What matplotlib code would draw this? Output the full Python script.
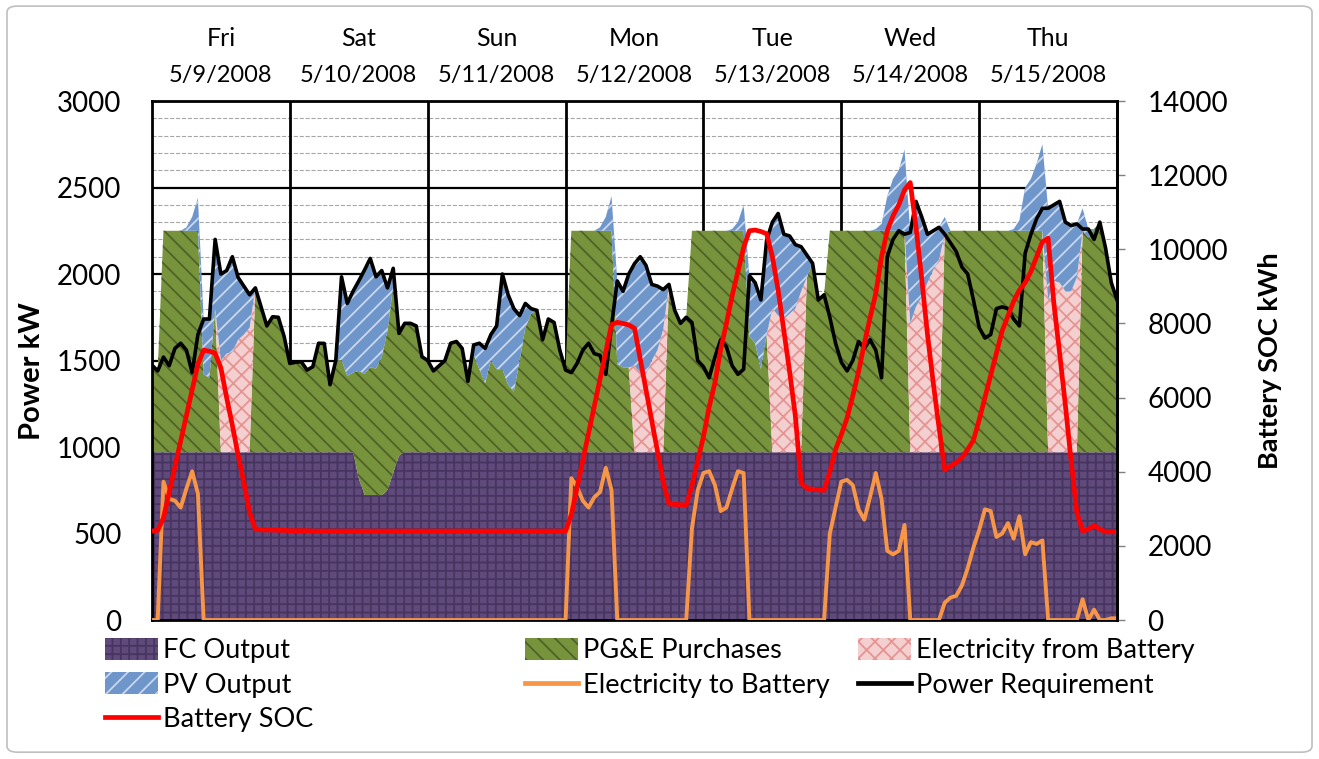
import numpy as np
import matplotlib
matplotlib.use("Agg")
import matplotlib.pyplot as plt
from matplotlib.patches import Patch, FancyBboxPatch
from matplotlib.lines import Line2D
from matplotlib.ticker import MultipleLocator
from matplotlib.transforms import blended_transform_factory

plt.rcParams['font.family'] = ['Lato', 'DejaVu Sans']
plt.rcParams['hatch.linewidth'] = 1.3

days = ["Fri", "Sat", "Sun", "Mon", "Tue", "Wed", "Thu"]
dates = ["5/9/2008", "5/10/2008", "5/11/2008", "5/12/2008",
         "5/13/2008", "5/14/2008", "5/15/2008"]

# hourly readings, Fri 0:00 .. Thu 24:00  (kW, SOC in kWh)
fc_output = [
    # Fri
    970, 970, 970, 970, 970, 970, 970, 970, 970, 970, 970, 970,
    970, 970, 970, 970, 970, 970, 970, 970, 970, 970, 970, 970,
    # Sat
    970, 970, 970, 970, 970, 970, 970, 970, 970, 970, 970, 970,
    820, 722, 722, 722, 722, 750, 850, 950, 970, 970, 970, 970,
    # Sun
    970, 970, 970, 970, 970, 970, 970, 970, 970, 970, 970, 970,
    970, 970, 970, 970, 970, 970, 970, 970, 970, 970, 970, 970,
    # Mon
    970, 970, 970, 970, 970, 970, 970, 970, 970, 970, 970, 970,
    970, 970, 970, 970, 970, 970, 970, 970, 970, 970, 970, 970,
    # Tue
    970, 970, 970, 970, 970, 970, 970, 970, 970, 970, 970, 970,
    970, 970, 970, 970, 970, 970, 970, 970, 970, 970, 970, 970,
    # Wed
    970, 970, 970, 970, 970, 970, 970, 970, 970, 970, 970, 970,
    970, 970, 970, 970, 970, 970, 970, 970, 970, 970, 970, 970,
    # Thu
    970, 970, 970, 970, 970, 970, 970, 970, 970, 970, 970, 970,
    970, 970, 970, 970, 970, 970, 970, 970, 970, 970, 970, 970,
    970,
]

pge_purchases = [
    # Fri
    504, 470, 1280, 1280, 1280, 1280, 1280, 1280, 1280, 450, 430, 830,
    0, 0, 0, 0, 0, 0, 950, 841, 730, 783, 780, 670,
    # Sat
    513, 520, 523, 475, 494, 630, 629, 390, 530, 534, 440, 460,
    620, 701, 738, 732, 798, 920, 1083, 707, 745, 745, 730, 552,
    # Sun
    530, 470, 500, 530, 630, 640, 600, 410, 560, 480, 400, 530,
    480, 480, 390, 350, 530, 720, 800, 820, 650, 770, 750, 590,
    # Mon
    475, 1280, 1280, 1280, 1280, 1280, 1280, 1280, 1280, 510, 490, 490,
    0, 0, 0, 0, 0, 0, 970, 820, 745, 780, 1280, 1280,
    # Tue
    1280, 1280, 1280, 1280, 1280, 1280, 1280, 1280, 670, 630, 480, 680,
    0, 0, 0, 0, 0, 0, 1010, 1092, 880, 910, 1280, 1280,
    # Wed
    1280, 1280, 1280, 1280, 1280, 1280, 1280, 1280, 1280, 1280, 1280, 1280,
    0, 0, 0, 0, 0, 0, 1260, 1280, 1280, 1280, 1280, 1280,
    # Thu
    1280, 1280, 1280, 1280, 1280, 1280, 1280, 1280, 1280, 1280, 1280, 1280,
    0, 0, 0, 0, 0, 0, 1280, 1240, 1290, 1330, 1180, 980,
    880,
]

from_battery = [
    # Fri
    0, 0, 0, 0, 0, 0, 0, 0, 0, 0, 0, 0,
    530, 570, 580, 650, 680, 720, 0, 0, 0, 0, 0, 0,
    # Sat
    0, 0, 0, 0, 0, 0, 0, 0, 0, 0, 0, 0,
    0, 0, 0, 0, 0, 0, 0, 0, 0, 0, 0, 0,
    # Sun
    0, 0, 0, 0, 0, 0, 0, 0, 0, 0, 0, 0,
    0, 0, 0, 0, 0, 0, 0, 0, 0, 0, 0, 0,
    # Mon
    0, 0, 0, 0, 0, 0, 0, 0, 0, 0, 0, 0,
    500, 460, 450, 530, 590, 710, 0, 0, 0, 0, 0, 0,
    # Tue
    0, 0, 0, 0, 0, 0, 0, 0, 0, 0, 0, 0,
    830, 790, 770, 800, 830, 930, 0, 0, 0, 0, 0, 0,
    # Wed
    0, 0, 0, 0, 0, 0, 0, 0, 0, 0, 0, 0,
    744, 841, 899, 980, 1053, 1111, 0, 0, 0, 0, 0, 0,
    # Thu
    0, 0, 0, 0, 0, 0, 0, 0, 0, 0, 0, 0,
    880, 990, 980, 930, 930, 1010, 0, 0, 0, 0, 0, 0,
    0,
]

pv_output = [
    # Fri
    0, 0, 0, 0, 0, 0, 20, 80, 190, 320, 340, 400,
    500, 480, 550, 360, 280, 190, 0, 0, 0, 0, 0, 0,
    # Sat
    0, 0, 0, 0, 0, 0, 0, 0, 0, 480, 420, 470,
    520, 600, 630, 530, 500, 250, 100, 0, 0, 0, 0, 0,
    # Sun
    0, 0, 0, 0, 0, 0, 0, 0, 60, 150, 200, 150,
    250, 550, 520, 480, 260, 140, 30, 0, 0, 0, 0, 0,
    # Mon
    0, 0, 0, 0, 0, 0, 20, 80, 200, 480, 440, 540,
    590, 670, 630, 440, 370, 230, 0, 0, 0, 0, 0, 0,
    # Tue
    0, 0, 0, 0, 0, 10, 50, 150, 350, 350, 400, 546,
    500, 590, 490, 450, 370, 258, 130, 0, 0, 0, 0, 0,
    # Wed
    0, 0, 0, 0, 0, 0, 10, 40, 200, 300, 350, 470,
    526, 609, 461, 280, 227, 189, 100, 0, 0, 0, 0, 0,
    # Thu
    0, 0, 0, 0, 0, 0, 10, 60, 250, 300, 390, 500,
    530, 440, 470, 400, 380, 310, 130, 50, 0, 0, 0, 0,
    0,
]

to_battery = [
    # Fri
    0, 0, 800, 700, 690, 650, 760, 860, 730, 0, 0, 0,
    0, 0, 0, 0, 0, 0, 0, 0, 0, 0, 0, 0,
    # Sat
    0, 0, 0, 0, 0, 0, 0, 0, 0, 0, 0, 0,
    0, 0, 0, 0, 0, 0, 0, 0, 0, 0, 0, 0,
    # Sun
    0, 0, 0, 0, 0, 0, 0, 0, 0, 0, 0, 0,
    0, 0, 0, 0, 0, 0, 0, 0, 0, 0, 0, 0,
    # Mon
    0, 820, 770, 690, 650, 710, 740, 880, 750, 0, 0, 0,
    0, 0, 0, 0, 0, 0, 0, 0, 0, 0, 530, 750,
    # Tue
    850, 860, 780, 630, 650, 760, 860, 850, 0, 0, 0, 0,
    0, 0, 0, 0, 0, 0, 0, 0, 0, 0, 500, 650,
    # Wed
    800, 810, 780, 640, 580, 710, 850, 700, 400, 380, 400, 550,
    0, 0, 0, 0, 0, 0, 100, 130, 140, 200, 300, 420,
    # Thu
    520, 640, 630, 480, 500, 560, 470, 600, 380, 450, 440, 460,
    0, 0, 0, 0, 0, 0, 120, 0, 60, 0, 0, 10,
    10,
]

power_req = [
    # Fri
    1474, 1440, 1520, 1470, 1570, 1600, 1560, 1430, 1650, 1740, 1740, 2200,
    2000, 2020, 2100, 1980, 1930, 1880, 1920, 1811, 1700, 1753, 1750, 1640,
    # Sat
    1483, 1490, 1493, 1445, 1464, 1600, 1599, 1360, 1500, 1984, 1830, 1900,
    1960, 2023, 2090, 1984, 2020, 1920, 2033, 1657, 1715, 1715, 1700, 1522,
    # Sun
    1500, 1440, 1470, 1500, 1600, 1610, 1570, 1380, 1590, 1600, 1570, 1650,
    1700, 2000, 1880, 1800, 1760, 1830, 1800, 1790, 1620, 1740, 1720, 1560,
    # Mon
    1445, 1430, 1483, 1560, 1600, 1540, 1530, 1420, 1700, 1960, 1900, 2000,
    2060, 2100, 2050, 1940, 1930, 1910, 1940, 1790, 1715, 1750, 1720, 1500,
    # Tue
    1464, 1400, 1520, 1620, 1580, 1470, 1420, 1450, 1990, 1950, 1850, 2196,
    2300, 2350, 2230, 2220, 2170, 2158, 2110, 2062, 1850, 1880, 1750, 1600,
    # Wed
    1490, 1440, 1500, 1610, 1570, 1620, 1560, 1400, 2100, 2200, 2250, 2230,
    2240, 2420, 2330, 2230, 2250, 2270, 2230, 2180, 2130, 2040, 2000, 1850,
    # Thu
    1690, 1630, 1650, 1800, 1810, 1800, 1740, 1700, 2120, 2230, 2320, 2380,
    2380, 2400, 2420, 2300, 2280, 2290, 2260, 2260, 2200, 2300, 2150, 1950,
    1850,
]

battery_soc = [
    # Fri
    2400, 2420, 2750, 3440, 4130, 4820, 5500, 6200, 6900, 7280, 7250, 7200,
    6800, 6000, 5250, 4450, 3700, 2900, 2450, 2430, 2430, 2430, 2420, 2420,
    # Sat
    2410, 2410, 2410, 2410, 2400, 2400, 2400, 2400, 2400, 2400, 2400, 2400,
    2400, 2400, 2400, 2400, 2400, 2400, 2400, 2400, 2400, 2400, 2400, 2400,
    # Sun
    2400, 2400, 2400, 2400, 2400, 2400, 2400, 2400, 2400, 2400, 2400, 2400,
    2400, 2400, 2400, 2400, 2400, 2400, 2400, 2400, 2400, 2400, 2400, 2400,
    # Mon
    2400, 2840, 3570, 4300, 5040, 5770, 6500, 7240, 7970, 8030, 8000, 7960,
    7870, 7040, 6210, 5380, 4550, 3720, 3130, 3120, 3110, 3100, 3630, 4300,
    # Tue
    4945, 5750, 6400, 7300, 8000, 8750, 9400, 10050, 10500, 10520, 10480, 10420,
    9800, 8900, 7800, 6700, 5500, 3700, 3550, 3530, 3510, 3500, 4000, 4600,
    # Wed
    5000, 5450, 6050, 6700, 7450, 8150, 8810, 9800, 10500, 10900, 11200, 11600,
    11800, 10600, 9200, 7700, 6400, 5200, 4050, 4150, 4250, 4380, 4600, 4850,
    # Thu
    5400, 6000, 6600, 7200, 7800, 8200, 8600, 8900, 9100, 9400, 9800, 10200,
    10300, 8540, 7200, 5800, 4300, 2900, 2400, 2450, 2550, 2450, 2380, 2380,
    2380,
]

hours = np.arange(len(power_req))
lvl1 = np.array(fc_output, float)
lvl2 = lvl1 + np.array(pge_purchases)
lvl3 = lvl2 + np.array(from_battery)
lvl4 = lvl3 + np.array(pv_output)

# face colour, hatch colour, hatch
c_fc = ('#604A7B', '#47345F', '++')
c_pge = ('#77933C', '#4F6228', '\\\\')
c_bat = ('#F4CFCF', '#E59494', 'xx')
c_pv = ('#6E96CB', '#C9D8EC', '//')

fig = plt.figure(figsize=(13.19, 7.59), dpi=100)
ax = fig.add_axes([0.1152, 0.1831, 0.7317, 0.6838])

for lo, hi, (fcol, hcol, hat) in [(0, lvl1, c_fc), (lvl1, lvl2, c_pge),
                                 (lvl2, lvl3, c_bat), (lvl3, lvl4, c_pv)]:
    ax.fill_between(hours, lo, hi, facecolor=fcol, edgecolor=hcol,
                    hatch=hat, linewidth=0, zorder=1)

ax.plot(hours, to_battery, color='#F79646', lw=2.8, zorder=3)
ax.plot(hours, power_req, color='black', lw=2.6, zorder=4)

ax.set_xlim(0, 168)
ax.set_ylim(0, 3000)
ax.yaxis.set_major_locator(MultipleLocator(500))
ax.yaxis.set_minor_locator(MultipleLocator(100))
ax.set_axisbelow(True)
ax.grid(which='major', axis='y', color='black', lw=1.6)
ax.grid(which='minor', axis='y', color='#A6A6A6', lw=0.8, ls='--')
for d in range(1, 7):
    ax.axvline(24 * d, color='black', lw=2, zorder=0.6)
ax.set_xticks([])
ax.tick_params(axis='y', which='both', length=0, labelsize=20, pad=22)
for s in ax.spines.values():
    s.set_linewidth(2)
ax.set_ylabel('Power kW', fontsize=21, fontweight='bold')
ax.yaxis.set_label_coords(-0.111, 0.48)

ax2 = ax.twinx()
ax2.plot(hours, battery_soc, color='#FF0000', lw=3.4)
ax2.set_ylim(0, 14000)
ax2.set_xlim(0, 168)
ax2.yaxis.set_major_locator(MultipleLocator(2000))
ax2.tick_params(axis='y', length=6, width=1, color='#808080', labelsize=20, pad=16)
for k, s in ax2.spines.items():
    s.set_visible(k == 'right')
ax2.spines['right'].set_linewidth(2)
ax2.set_ylabel('Battery SOC kWh', fontsize=19.5, fontweight='bold')
ax2.yaxis.set_label_coords(1.146, 0.5)

tr = blended_transform_factory(ax.transData, fig.transFigure)
for i, (dname, dt) in enumerate(zip(days, dates)):
    ax.text(12 + 24 * i, 0.949, dname, transform=tr, ha='center', va='center', fontsize=18)
    ax.text(12 + 24 * i, 0.901, dt, transform=tr, ha='center', va='center', fontsize=17)

def area_patch(c):
    return Patch(facecolor=c[0], edgecolor=c[1], hatch=c[2], linewidth=0)

leg_kw = dict(frameon=False, fontsize=19.5, handlelength=1.95, handleheight=0.85,
              handletextpad=0.18, labelspacing=0.33, borderpad=0, borderaxespad=0,
              loc='upper left')
fig.legend([area_patch(c_fc), area_patch(c_pv), Line2D([], [], color='#FF0000', lw=3.4)],
           ['FC Output', 'PV Output', 'Battery SOC'],
           bbox_to_anchor=(0.0796, 0.159), **leg_kw)
fig.legend([area_patch(c_pge), Line2D([], [], color='#F79646', lw=3.4)],
           ['PG&E Purchases', 'Electricity to Battery'],
           bbox_to_anchor=(0.398, 0.159), **leg_kw)
fig.legend([area_patch(c_bat), Line2D([], [], color='black', lw=3.4)],
           ['Electricity from Battery', 'Power Requirement'],
           bbox_to_anchor=(0.6505, 0.159), **leg_kw)

fig.patches.append(FancyBboxPatch((0.0053, 0.009), 0.9894, 0.983,
                                  boxstyle='round,pad=0,rounding_size=0.008',
                                  transform=fig.transFigure, fill=False,
                                  ec='#BFBFBF', lw=1.2))

fig.savefig('out.png', dpi=100)
